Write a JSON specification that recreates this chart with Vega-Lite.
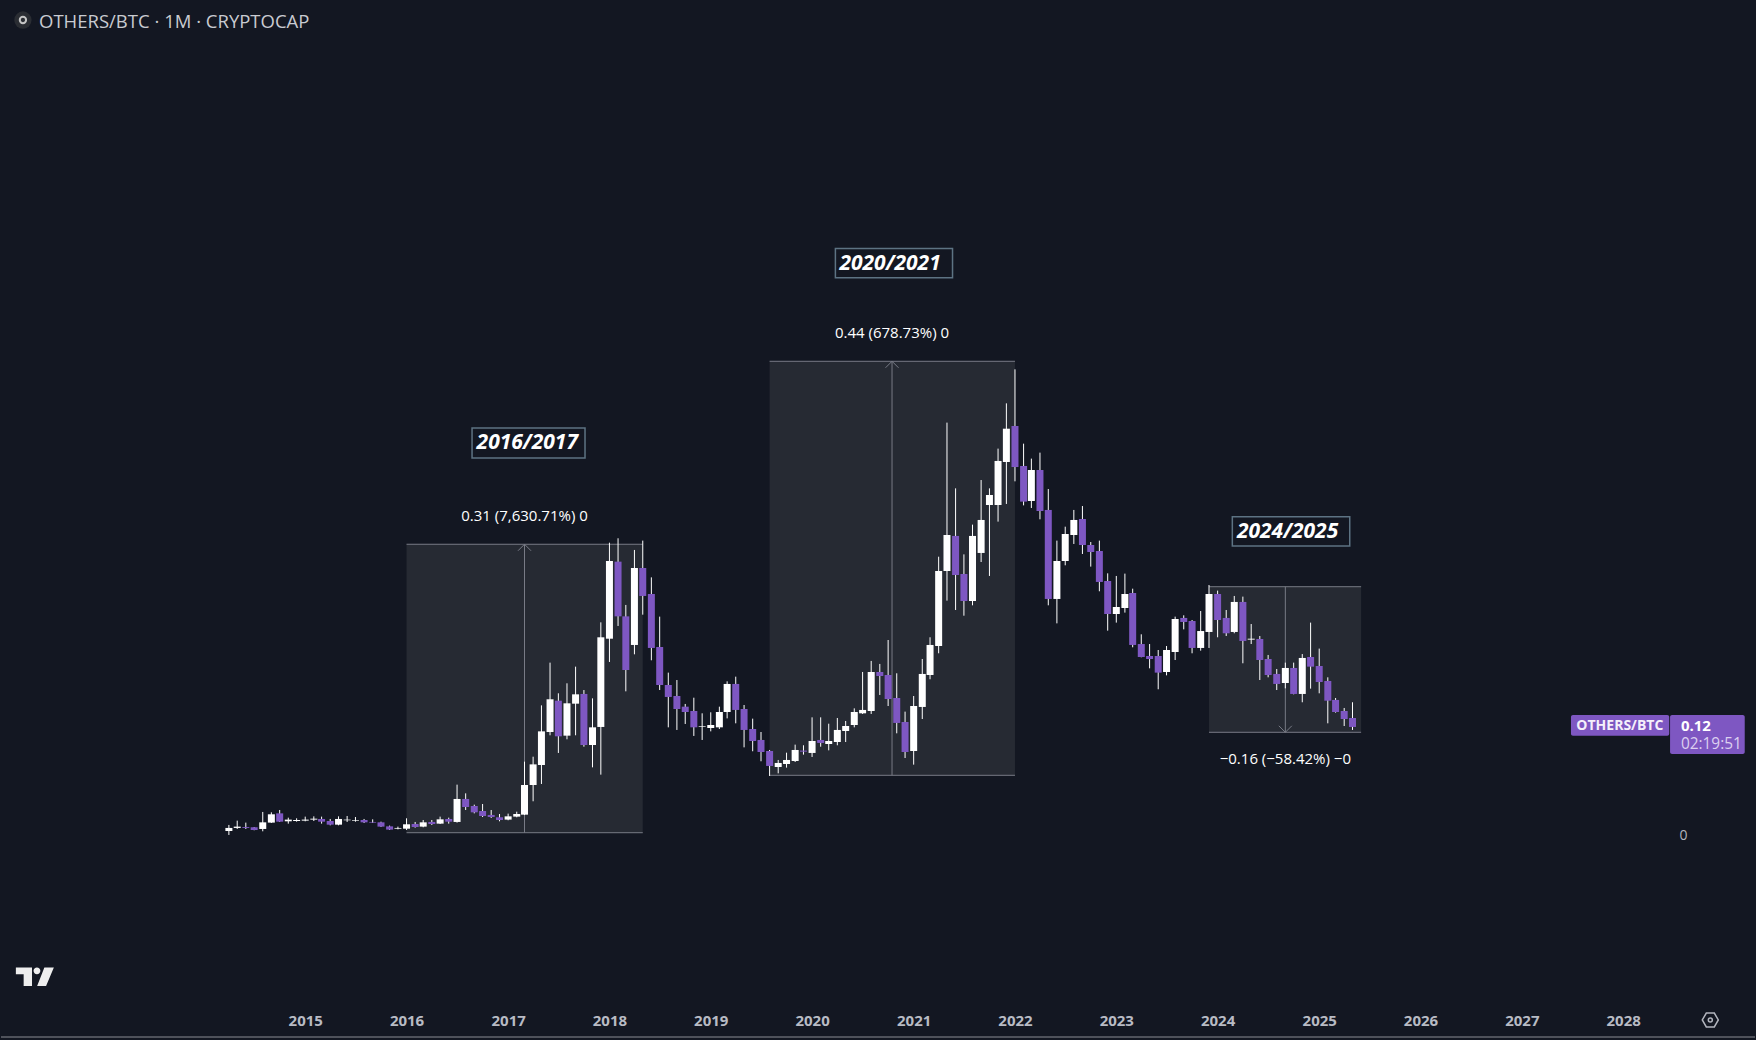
{
"$schema":"https://vega.github.io/schema/vega-lite/v6.json",
"width":1756,"height":1040,
"autosize":{"type":"fit","contains":"padding"},
"padding":0,
"background":"#131722",
"config":{"view":{"stroke":null},"font":"Open Sans"},
"datasets":{
"candles":[
{"d":"2014-04-01","o":0.0053,"h":0.0118,"l":0.0011,"c":0.0086,"dir":"up"},
{"d":"2014-05-01","o":0.0086,"h":0.0164,"l":0.0075,"c":0.0100,"dir":"up"},
{"d":"2014-06-01","o":0.0096,"h":0.0143,"l":0.0075,"c":0.0086,"dir":"down"},
{"d":"2014-07-01","o":0.0093,"h":0.0096,"l":0.0061,"c":0.0064,"dir":"down"},
{"d":"2014-08-01","o":0.0075,"h":0.0257,"l":0.0050,"c":0.0146,"dir":"up"},
{"d":"2014-09-01","o":0.0143,"h":0.0253,"l":0.0139,"c":0.0232,"dir":"up"},
{"d":"2014-10-01","o":0.0242,"h":0.0278,"l":0.0150,"c":0.0153,"dir":"down"},
{"d":"2014-11-01","o":0.0157,"h":0.0196,"l":0.0132,"c":0.0175,"dir":"up"},
{"d":"2014-12-01","o":0.0160,"h":0.0189,"l":0.0153,"c":0.0171,"dir":"up"},
{"d":"2015-01-01","o":0.0164,"h":0.0207,"l":0.0157,"c":0.0175,"dir":"up"},
{"d":"2015-02-01","o":0.0175,"h":0.0210,"l":0.0160,"c":0.0185,"dir":"up"},
{"d":"2015-03-01","o":0.0182,"h":0.0207,"l":0.0132,"c":0.0153,"dir":"down"},
{"d":"2015-04-01","o":0.0160,"h":0.0182,"l":0.0114,"c":0.0121,"dir":"down"},
{"d":"2015-05-01","o":0.0121,"h":0.0210,"l":0.0114,"c":0.0182,"dir":"up"},
{"d":"2015-06-01","o":0.0168,"h":0.0214,"l":0.0150,"c":0.0175,"dir":"up"},
{"d":"2015-07-01","o":0.0164,"h":0.0203,"l":0.0153,"c":0.0171,"dir":"up"},
{"d":"2015-08-01","o":0.0171,"h":0.0182,"l":0.0139,"c":0.0146,"dir":"down"},
{"d":"2015-09-01","o":0.0150,"h":0.0178,"l":0.0139,"c":0.0143,"dir":"down"},
{"d":"2015-10-01","o":0.0146,"h":0.0153,"l":0.0096,"c":0.0100,"dir":"down"},
{"d":"2015-11-01","o":0.0103,"h":0.0111,"l":0.0064,"c":0.0068,"dir":"down"},
{"d":"2015-12-01","o":0.0078,"h":0.0100,"l":0.0071,"c":0.0086,"dir":"up"},
{"d":"2016-01-01","o":0.0078,"h":0.0189,"l":0.0064,"c":0.0125,"dir":"up"},
{"d":"2016-02-01","o":0.0128,"h":0.0150,"l":0.0089,"c":0.0096,"dir":"down"},
{"d":"2016-03-01","o":0.0100,"h":0.0171,"l":0.0093,"c":0.0146,"dir":"up"},
{"d":"2016-04-01","o":0.0150,"h":0.0171,"l":0.0118,"c":0.0128,"dir":"down"},
{"d":"2016-05-01","o":0.0132,"h":0.0207,"l":0.0128,"c":0.0178,"dir":"up"},
{"d":"2016-06-01","o":0.0182,"h":0.0196,"l":0.0132,"c":0.0153,"dir":"down"},
{"d":"2016-07-01","o":0.0150,"h":0.0549,"l":0.0143,"c":0.0396,"dir":"up"},
{"d":"2016-08-01","o":0.0396,"h":0.0456,"l":0.0278,"c":0.0310,"dir":"down"},
{"d":"2016-09-01","o":0.0321,"h":0.0335,"l":0.0242,"c":0.0253,"dir":"down"},
{"d":"2016-10-01","o":0.0267,"h":0.0342,"l":0.0203,"c":0.0214,"dir":"down"},
{"d":"2016-11-01","o":0.0225,"h":0.0278,"l":0.0193,"c":0.0203,"dir":"down"},
{"d":"2016-12-01","o":0.0200,"h":0.0235,"l":0.0157,"c":0.0171,"dir":"down"},
{"d":"2017-01-01","o":0.0175,"h":0.0239,"l":0.0168,"c":0.0210,"dir":"up"},
{"d":"2017-02-01","o":0.0207,"h":0.0260,"l":0.0200,"c":0.0235,"dir":"up"},
{"d":"2017-03-01","o":0.0228,"h":0.0795,"l":0.0225,"c":0.0545,"dir":"up"},
{"d":"2017-04-01","o":0.0545,"h":0.0848,"l":0.0371,"c":0.0766,"dir":"up"},
{"d":"2017-05-01","o":0.0759,"h":0.1397,"l":0.0556,"c":0.1119,"dir":"up"},
{"d":"2017-06-01","o":0.1112,"h":0.1854,"l":0.1077,"c":0.1462,"dir":"up"},
{"d":"2017-07-01","o":0.1447,"h":0.1526,"l":0.0888,"c":0.1066,"dir":"down"},
{"d":"2017-08-01","o":0.1073,"h":0.1633,"l":0.1034,"c":0.1419,"dir":"up"},
{"d":"2017-09-01","o":0.1415,"h":0.1811,"l":0.1077,"c":0.1515,"dir":"up"},
{"d":"2017-10-01","o":0.1519,"h":0.1561,"l":0.0955,"c":0.0973,"dir":"down"},
{"d":"2017-11-01","o":0.0973,"h":0.1472,"l":0.0734,"c":0.1162,"dir":"up"},
{"d":"2017-12-01","o":0.1166,"h":0.2285,"l":0.0656,"c":0.2125,"dir":"up"},
{"d":"2018-01-01","o":0.2110,"h":0.3137,"l":0.1861,"c":0.2941,"dir":"up"},
{"d":"2018-02-01","o":0.2934,"h":0.3184,"l":0.2246,"c":0.2349,"dir":"down"},
{"d":"2018-03-01","o":0.2349,"h":0.2471,"l":0.1547,"c":0.1775,"dir":"down"},
{"d":"2018-04-01","o":0.2043,"h":0.3059,"l":0.1943,"c":0.2866,"dir":"up"},
{"d":"2018-05-01","o":0.2866,"h":0.3159,"l":0.2367,"c":0.2567,"dir":"down"},
{"d":"2018-06-01","o":0.2588,"h":0.2766,"l":0.1879,"c":0.2011,"dir":"down"},
{"d":"2018-07-01","o":0.2021,"h":0.2346,"l":0.1561,"c":0.1615,"dir":"down"},
{"d":"2018-08-01","o":0.1615,"h":0.1747,"l":0.1162,"c":0.1487,"dir":"down"},
{"d":"2018-09-01","o":0.1497,"h":0.1668,"l":0.1134,"c":0.1358,"dir":"down"},
{"d":"2018-10-01","o":0.1383,"h":0.1412,"l":0.1198,"c":0.1326,"dir":"down"},
{"d":"2018-11-01","o":0.1337,"h":0.1479,"l":0.1070,"c":0.1162,"dir":"down"},
{"d":"2018-12-01","o":0.1169,"h":0.1312,"l":0.1027,"c":0.1176,"dir":"up"},
{"d":"2019-01-01","o":0.1155,"h":0.1323,"l":0.1119,"c":0.1187,"dir":"up"},
{"d":"2019-02-01","o":0.1162,"h":0.1383,"l":0.1144,"c":0.1326,"dir":"up"},
{"d":"2019-03-01","o":0.1326,"h":0.1654,"l":0.1258,"c":0.1626,"dir":"up"},
{"d":"2019-04-01","o":0.1626,"h":0.1704,"l":0.1205,"c":0.1348,"dir":"down"},
{"d":"2019-05-01","o":0.1358,"h":0.1401,"l":0.0948,"c":0.1134,"dir":"down"},
{"d":"2019-06-01","o":0.1144,"h":0.1255,"l":0.0906,"c":0.1016,"dir":"down"},
{"d":"2019-07-01","o":0.1027,"h":0.1112,"l":0.0799,"c":0.0898,"dir":"down"},
{"d":"2019-08-01","o":0.0909,"h":0.0920,"l":0.0642,"c":0.0749,"dir":"down"},
{"d":"2019-09-01","o":0.0738,"h":0.0813,"l":0.0670,"c":0.0781,"dir":"up"},
{"d":"2019-10-01","o":0.0770,"h":0.0891,"l":0.0731,"c":0.0813,"dir":"up"},
{"d":"2019-11-01","o":0.0802,"h":0.0977,"l":0.0791,"c":0.0920,"dir":"up"},
{"d":"2019-12-01","o":0.0913,"h":0.0970,"l":0.0870,"c":0.0902,"dir":"down"},
{"d":"2020-01-01","o":0.0888,"h":0.1269,"l":0.0845,"c":0.1016,"dir":"up"},
{"d":"2020-02-01","o":0.1027,"h":0.1269,"l":0.0955,"c":0.0995,"dir":"down"},
{"d":"2020-03-01","o":0.0984,"h":0.1201,"l":0.0916,"c":0.1016,"dir":"up"},
{"d":"2020-04-01","o":0.1005,"h":0.1262,"l":0.0970,"c":0.1134,"dir":"up"},
{"d":"2020-05-01","o":0.1123,"h":0.1230,"l":0.1005,"c":0.1176,"dir":"up"},
{"d":"2020-06-01","o":0.1187,"h":0.1365,"l":0.1162,"c":0.1326,"dir":"up"},
{"d":"2020-07-01","o":0.1312,"h":0.1754,"l":0.1305,"c":0.1348,"dir":"up"},
{"d":"2020-08-01","o":0.1337,"h":0.1872,"l":0.1305,"c":0.1754,"dir":"up"},
{"d":"2020-09-01","o":0.1754,"h":0.1840,"l":0.1508,"c":0.1711,"dir":"down"},
{"d":"2020-10-01","o":0.1722,"h":0.2096,"l":0.1390,"c":0.1465,"dir":"down"},
{"d":"2020-11-01","o":0.1476,"h":0.1740,"l":0.1098,"c":0.1209,"dir":"down"},
{"d":"2020-12-01","o":0.1219,"h":0.1330,"l":0.0834,"c":0.0898,"dir":"down"},
{"d":"2021-01-01","o":0.0909,"h":0.1497,"l":0.0763,"c":0.1390,"dir":"up"},
{"d":"2021-02-01","o":0.1380,"h":0.1893,"l":0.1251,"c":0.1733,"dir":"up"},
{"d":"2021-03-01","o":0.1722,"h":0.2125,"l":0.1676,"c":0.2043,"dir":"up"},
{"d":"2021-04-01","o":0.2032,"h":0.2987,"l":0.1954,"c":0.2834,"dir":"up"},
{"d":"2021-05-01","o":0.2834,"h":0.4421,"l":0.2517,"c":0.3219,"dir":"up"},
{"d":"2021-06-01","o":0.3209,"h":0.3718,"l":0.2417,"c":0.2791,"dir":"down"},
{"d":"2021-07-01","o":0.2802,"h":0.3012,"l":0.2356,"c":0.2513,"dir":"down"},
{"d":"2021-08-01","o":0.2513,"h":0.3330,"l":0.2467,"c":0.3209,"dir":"up"},
{"d":"2021-09-01","o":0.3027,"h":0.3807,"l":0.2930,"c":0.3380,"dir":"up"},
{"d":"2021-10-01","o":0.3540,"h":0.3718,"l":0.2781,"c":0.3647,"dir":"up"},
{"d":"2021-11-01","o":0.3540,"h":0.4143,"l":0.3362,"c":0.4011,"dir":"up"},
{"d":"2021-12-01","o":0.4000,"h":0.4627,"l":0.3551,"c":0.4356,"dir":"up"},
{"d":"2022-01-01","o":0.4385,"h":0.4991,"l":0.3793,"c":0.3946,"dir":"down"},
{"d":"2022-02-01","o":0.3957,"h":0.4196,"l":0.3536,"c":0.3576,"dir":"down"},
{"d":"2022-03-01","o":0.3583,"h":0.4036,"l":0.3508,"c":0.3914,"dir":"up"},
{"d":"2022-04-01","o":0.3914,"h":0.4100,"l":0.3387,"c":0.3476,"dir":"down"},
{"d":"2022-05-01","o":0.3487,"h":0.3711,"l":0.2467,"c":0.2535,"dir":"down"},
{"d":"2022-06-01","o":0.2535,"h":0.3159,"l":0.2274,"c":0.2941,"dir":"up"},
{"d":"2022-07-01","o":0.2941,"h":0.3308,"l":0.2895,"c":0.3230,"dir":"up"},
{"d":"2022-08-01","o":0.3219,"h":0.3487,"l":0.3123,"c":0.3380,"dir":"up"},
{"d":"2022-09-01","o":0.3390,"h":0.3529,"l":0.3016,"c":0.3112,"dir":"down"},
{"d":"2022-10-01","o":0.3112,"h":0.3144,"l":0.2881,"c":0.3037,"dir":"down"},
{"d":"2022-11-01","o":0.3048,"h":0.3159,"l":0.2617,"c":0.2717,"dir":"down"},
{"d":"2022-12-01","o":0.2727,"h":0.2809,"l":0.2196,"c":0.2374,"dir":"down"},
{"d":"2023-01-01","o":0.2374,"h":0.2781,"l":0.2282,"c":0.2449,"dir":"up"},
{"d":"2023-02-01","o":0.2438,"h":0.2806,"l":0.2389,"c":0.2588,"dir":"up"},
{"d":"2023-03-01","o":0.2599,"h":0.2645,"l":0.2018,"c":0.2043,"dir":"down"},
{"d":"2023-04-01","o":0.2053,"h":0.2157,"l":0.1911,"c":0.1914,"dir":"down"},
{"d":"2023-05-01","o":0.1925,"h":0.2053,"l":0.1793,"c":0.1893,"dir":"down"},
{"d":"2023-06-01","o":0.1925,"h":0.1989,"l":0.1569,"c":0.1747,"dir":"down"},
{"d":"2023-07-01","o":0.1754,"h":0.2032,"l":0.1718,"c":0.1989,"dir":"up"},
{"d":"2023-08-01","o":0.1968,"h":0.2346,"l":0.1882,"c":0.2321,"dir":"up"},
{"d":"2023-09-01","o":0.2332,"h":0.2360,"l":0.2210,"c":0.2289,"dir":"down"},
{"d":"2023-10-01","o":0.2299,"h":0.2310,"l":0.1954,"c":0.2011,"dir":"down"},
{"d":"2023-11-01","o":0.2011,"h":0.2406,"l":0.1982,"c":0.2192,"dir":"up"},
{"d":"2023-12-01","o":0.2182,"h":0.2684,"l":0.2011,"c":0.2588,"dir":"up"},
{"d":"2024-01-01","o":0.2588,"h":0.2624,"l":0.2125,"c":0.2310,"dir":"down"},
{"d":"2024-02-01","o":0.2332,"h":0.2417,"l":0.2139,"c":0.2168,"dir":"down"},
{"d":"2024-03-01","o":0.2182,"h":0.2567,"l":0.2168,"c":0.2503,"dir":"up"},
{"d":"2024-04-01","o":0.2503,"h":0.2560,"l":0.1847,"c":0.2086,"dir":"down"},
{"d":"2024-05-01","o":0.2100,"h":0.2267,"l":0.2053,"c":0.2110,"dir":"up"},
{"d":"2024-06-01","o":0.2107,"h":0.2139,"l":0.1668,"c":0.1882,"dir":"down"},
{"d":"2024-07-01","o":0.1893,"h":0.1936,"l":0.1697,"c":0.1722,"dir":"down"},
{"d":"2024-08-01","o":0.1733,"h":0.1786,"l":0.1561,"c":0.1626,"dir":"down"},
{"d":"2024-09-01","o":0.1636,"h":0.1854,"l":0.1579,"c":0.1797,"dir":"up"},
{"d":"2024-10-01","o":0.1797,"h":0.1854,"l":0.1515,"c":0.1519,"dir":"down"},
{"d":"2024-11-01","o":0.1519,"h":0.1946,"l":0.1430,"c":0.1904,"dir":"up"},
{"d":"2024-12-01","o":0.1914,"h":0.2282,"l":0.1576,"c":0.1811,"dir":"down"},
{"d":"2025-01-01","o":0.1818,"h":0.2004,"l":0.1526,"c":0.1647,"dir":"down"},
{"d":"2025-02-01","o":0.1658,"h":0.1697,"l":0.1205,"c":0.1447,"dir":"down"},
{"d":"2025-03-01","o":0.1455,"h":0.1476,"l":0.1319,"c":0.1326,"dir":"down"},
{"d":"2025-04-01","o":0.1337,"h":0.1369,"l":0.1176,"c":0.1251,"dir":"down"},
{"d":"2025-05-01","o":0.1262,"h":0.1430,"l":0.1134,"c":0.1166,"dir":"down"}
],
"zones":[
{"start":"2016-01-01","end":"2018-05-01","mid":"2017-03-01","top":0.312,"bottom":0.0035,"dir":"up","tip":0.312,"label":"0.31 (7,630.71%) 0","lx":"2017-03-01","ly":0.3425},
{"start":"2019-08-01","end":"2022-01-01","mid":"2020-10-15","top":0.5077,"bottom":0.0649,"dir":"up","tip":0.5077,"label":"0.44 (678.73%) 0","lx":"2020-10-15","ly":0.5378},
{"start":"2023-12-01","end":"2025-06-01","mid":"2024-09-01","top":0.2666,"bottom":0.1109,"dir":"down","tip":0.1109,"label":"−0.16 (−58.42%) −0","lx":"2024-09-01","ly":0.0824}
],
"cycles":[
{"x":"2016-08-24","x2":"2017-10-05","y":0.4364,"y2":0.4043,"tx":"2017-03-11","ty":0.4204,"label":"2016/2017"},
{"x":"2020-03-25","x2":"2021-05-21","y":0.6282,"y2":0.5970,"tx":"2020-10-08","ty":0.6118,"label":"2020/2021"},
{"x":"2024-02-23","x2":"2025-04-21","y":0.3415,"y2":0.3102,"tx":"2024-09-09","ty":0.3252,"label":"2024/2025"}
],
"tags":[
{"x":"2027-06-27","x2":"2028-06-15","y":0.1294,"y2":0.1073},
{"x":"2028-06-18","x2":"2029-03-14","y":0.1294,"y2":0.0877}
]
},
"layer":[
{"data":{"values":[{"x":"2012-01-01","x2":"2029-04-20","y":-0.215}]},
 "mark":{"type":"rule","stroke":"#8b8d93","strokeWidth":1},
 "encoding":{
  "x":{"field":"x","type":"temporal","scale":{"type":"utc","domain":["2012-01-01","2029-04-20"],"padding":0},
   "axis":{"orient":"bottom","offset":-20,"title":null,"domain":false,"ticks":false,"grid":false,"labelPadding":0,"labelBaseline":"middle",
    "labelFont":"Open Sans","labelFontSize":15,"labelFontWeight":"bold","labelColor":"#b8bbc4","format":"%Y","labelOverlap":false,"labelFlush":false,
    "values":[{"year":2015,"utc":true},{"year":2016,"utc":true},{"year":2017,"utc":true},{"year":2018,"utc":true},{"year":2019,"utc":true},{"year":2020,"utc":true},{"year":2021,"utc":true},{"year":2022,"utc":true},{"year":2023,"utc":true},{"year":2024,"utc":true},{"year":2025,"utc":true},{"year":2026,"utc":true},{"year":2027,"utc":true},{"year":2028,"utc":true}]}},
  "x2":{"field":"x2"},
  "y":{"field":"y","type":"quantitative","scale":{"domain":[-0.2182,0.8941],"nice":false,"zero":false},
   "axis":{"orient":"right","offset":-76,"title":null,"domain":false,"ticks":false,"grid":false,"values":[0],"labelPadding":0,"labelFont":"Open Sans","labelFontSize":14,"labelColor":"#b2b5be","format":"d"}}
 }},
{"data":{"name":"zones"},"mark":{"type":"rect","fill":"#262a33"},
 "encoding":{"x":{"field":"start","type":"temporal"},"x2":{"field":"end"},"y":{"field":"top","type":"quantitative"},"y2":{"field":"bottom"}}},
{"data":{"name":"zones"},"mark":{"type":"rule","stroke":"#787b86","strokeWidth":1},
 "encoding":{"x":{"field":"start","type":"temporal"},"x2":{"field":"end"},"y":{"field":"top","type":"quantitative"}}},
{"data":{"name":"zones"},"mark":{"type":"rule","stroke":"#787b86","strokeWidth":1},
 "encoding":{"x":{"field":"start","type":"temporal"},"x2":{"field":"end"},"y":{"field":"bottom","type":"quantitative"}}},
{"data":{"name":"zones"},"mark":{"type":"rule","stroke":"#787b86","strokeWidth":1},
 "encoding":{"x":{"field":"mid","type":"temporal"},"y":{"field":"top","type":"quantitative"},"y2":{"field":"bottom"}}},
{"data":{"name":"zones"},"mark":{"type":"point","filled":false,"stroke":"#787b86","strokeWidth":1,"size":169,"opacity":1},
 "encoding":{"x":{"field":"mid","type":"temporal"},"y":{"field":"tip","type":"quantitative"},
  "shape":{"field":"dir","type":"nominal","legend":null,"scale":{"domain":["up","down"],"range":["M-1,1L0,0L1,1","M-1,-1L0,0L1,-1"]}}}},
{"data":{"name":"candles"},"mark":{"type":"rule","stroke":"#ffffff","strokeWidth":1},
 "encoding":{"x":{"field":"d","type":"temporal"},"y":{"field":"h","type":"quantitative"},"y2":{"field":"l"}}},
{"data":{"name":"candles"},"mark":{"type":"bar","size":7},
 "encoding":{"x":{"field":"d","type":"temporal"},"y":{"field":"o","type":"quantitative"},"y2":{"field":"c"},
  "color":{"field":"dir","type":"nominal","legend":null,"scale":{"domain":["up","down"],"range":["#ffffff","#7e57c2"]}}}},
{"data":{"name":"zones"},"mark":{"type":"text","font":"Open Sans","fontSize":15,"fontWeight":"normal","color":"#ffffff"},
 "encoding":{"x":{"field":"lx","type":"temporal"},"y":{"field":"ly","type":"quantitative"},"text":{"field":"label"}}},
{"data":{"name":"cycles"},"mark":{"type":"rect","fill":"#131722","stroke":"#5d7383","strokeWidth":1.5},
 "encoding":{"x":{"field":"x","type":"temporal"},"x2":{"field":"x2"},"y":{"field":"y","type":"quantitative"},"y2":{"field":"y2"}}},
{"data":{"name":"cycles"},"mark":{"type":"text","font":"Open Sans","fontSize":21,"fontWeight":"bold","fontStyle":"italic","color":"#ffffff"},
 "encoding":{"x":{"field":"tx","type":"temporal"},"y":{"field":"ty","type":"quantitative"},"text":{"field":"label"}}},
{"data":{"name":"tags"},"mark":{"type":"rect","fill":"#7e57c2","cornerRadius":2},
 "encoding":{"x":{"field":"x","type":"temporal"},"x2":{"field":"x2"},"y":{"field":"y","type":"quantitative"},"y2":{"field":"y2"}}},
{"data":{"values":[{"x":"2027-12-20","y":0.1177,"t":"OTHERS/BTC"}]},"mark":{"type":"text","font":"Open Sans","fontSize":14,"fontWeight":"bold","color":"#f5f0fb"},
 "encoding":{"x":{"field":"x","type":"temporal"},"y":{"field":"y","type":"quantitative"},"text":{"field":"t"}}},
{"data":{"values":[{"x":"2028-07-27","y":0.1177,"t":"0.12"}]},"mark":{"type":"text","align":"left","font":"Open Sans","fontSize":15,"fontWeight":"bold","color":"#ffffff"},
 "encoding":{"x":{"field":"x","type":"temporal"},"y":{"field":"y","type":"quantitative"},"text":{"field":"t"}}},
{"data":{"values":[{"x":"2028-07-27","y":0.0984,"t":"02:19:51"}]},"mark":{"type":"text","align":"left","font":"Open Sans","fontSize":15.4,"color":"#dcd0f0"},
 "encoding":{"x":{"field":"x","type":"temporal"},"y":{"field":"y","type":"quantitative"},"text":{"field":"t"}}},
{"data":{"values":[{"x":"2012-05-17","y":0.8706,"t":"OTHERS/BTC · 1M · CRYPTOCAP"}]},"mark":{"type":"text","align":"left","font":"Open Sans","fontSize":18.5,"color":"#c9cbd1"},
 "encoding":{"x":{"field":"x","type":"temporal"},"y":{"field":"y","type":"quantitative"},"text":{"field":"t"}}},
{"data":{"values":[{"x":"2012-03-20","y":0.8727}]},"mark":{"type":"point","shape":"circle","filled":true,"fill":"#2a2d33","size":300,"opacity":1},
 "encoding":{"x":{"field":"x","type":"temporal"},"y":{"field":"y","type":"quantitative"}}},
{"data":{"values":[{"x":"2012-03-20","y":0.8727}]},"mark":{"type":"point","shape":"circle","filled":false,"stroke":"#c4c4c4","strokeWidth":2,"size":40,"opacity":1},
 "encoding":{"x":{"field":"x","type":"temporal"},"y":{"field":"y","type":"quantitative"}}},
{"data":{"values":[{"x":"2012-05-02","y":-0.1503}]},"mark":{"type":"point","filled":true,"fill":"#eeeeee","opacity":1,"size":1444,"shape":"M-1,-0.48L-0.15,-0.48L-0.15,0.5L-0.59,0.5L-0.59,-0.12L-1,-0.12ZM-0.07,-0.3A0.18,0.18 0 1,0 0.29,-0.3A0.18,0.18 0 1,0 -0.07,-0.3ZM0.5,-0.48L1,-0.48L0.59,0.5L0.12,0.5Z"},
 "encoding":{"x":{"field":"x","type":"temporal"},"y":{"field":"y","type":"quantitative"}}},
{"data":{"values":[{"x":"2028-11-10","y":-0.1968}]},"mark":{"type":"point","filled":false,"stroke":"#b2b5be","strokeWidth":1.5,"opacity":1,"size":256,"shape":"M-1,0L-0.5,-0.87L0.5,-0.87L1,0L0.5,0.87L-0.5,0.87Z"},
 "encoding":{"x":{"field":"x","type":"temporal"},"y":{"field":"y","type":"quantitative"}}},
{"data":{"values":[{"x":"2028-11-10","y":-0.1968}]},"mark":{"type":"point","shape":"circle","filled":false,"stroke":"#b2b5be","strokeWidth":1.5,"opacity":1,"size":16},
 "encoding":{"x":{"field":"x","type":"temporal"},"y":{"field":"y","type":"quantitative"}}}
]
}
